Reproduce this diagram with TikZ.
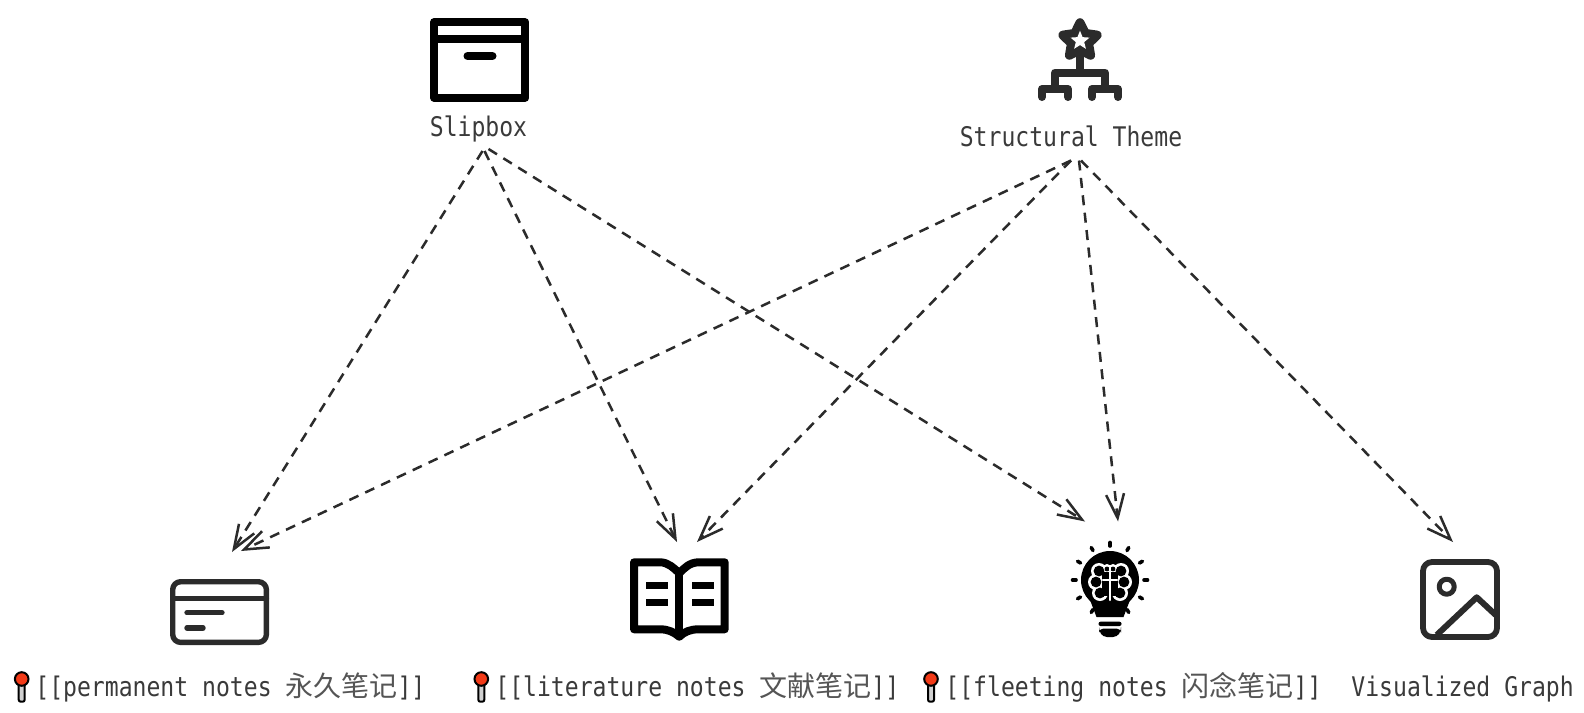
\documentclass[tikz,border=0pt]{standalone}
\usepackage{fontspec}
\setmainfont[FakeStretch=.855]{DejaVu Sans Mono}
\newfontfamily\cjkfont{Noto Sans CJK SC}
\definecolor{dnden}{HTML}{000000}
\definecolor{dnmuc}{HTML}{2B2B2B}
\definecolor{dnchu}{HTML}{3A3A3A}
\definecolor{dncjk}{HTML}{555555}
\definecolor{dndo}{HTML}{F23A17}
\definecolor{dnxam}{HTML}{D0D0D0}
\def\mauden{dnden}
\def\maumuc{dnmuc}
\newcommand{\cjkstr}[1]{{\cjkfont\fontsize{14}{14}\selectfont\color{dncjk}#1}}
\usetikzlibrary{arrows.meta,calc}
\tikzset{
	notepin/.pic={
		\draw[black,line width=1pt,fill=dnxam,rounded corners=1pt] (-3,4) rectangle (3,22.7);
		\draw[black,line width=1pt,fill=dndo] (0,0) circle (6.8);
	}
}
\begin{document}
\begin{tikzpicture}[x=.5pt,y=-.5pt]
		\tikzstyle{labelstyle} = [inner sep=0pt,anchor=base,text=dnchu,font=\fontsize{13.5}{14}\selectfont,text depth=2.3pt,text height=8pt]
		\tikzstyle{linkstyle} = [-{Straight Barb[length=12pt,width=9pt]},line width=1.25pt,dash pattern=on 5pt off 3.75pt,line join=round,\maumuc]
		\tikzstyle{blackicon} = [line width=4pt,line join=round,\mauden]
		\tikzstyle{darkicon} = [line join=round,line cap=round,\maumuc]
		\path[use as bounding box,fill=white] (0,0) rectangle (1584,712);
		\node[labelstyle] (slip) at (478.5,136.5) {Slipbox};
		\node[labelstyle] (theme) at (1071,146) {Structural Theme};
		\node[labelstyle,anchor=base west] (perm) at (35,696) {[[permanent notes \cjkstr{永久笔记}]]};
		\node[labelstyle,anchor=base west] (lit) at (495,696) {[[literature notes \cjkstr{文献笔记}]]};
		\node[labelstyle,anchor=base west] (fleet) at (945,696) {[[fleeting notes \cjkstr{闪念笔记}]]};
		\node[labelstyle,anchor=base west] (graph) at (1351,696) {Visualized Graph};
		\foreach \x in {21.7,481.3,931}
			\pic at (\x,679) {notepin};
		\coordinate (permA) at (232,552);
		\coordinate (permB) at (241,551);
		\coordinate (litA) at (677,542);
		\coordinate (litB) at (697,542);
		\coordinate (fleetA) at (1085,521.5);
		\coordinate (fleetB) at (1118,521.5);
		\coordinate (graphA) at (1453,542);
		\draw[linkstyle] ([shift={(4,9.5)}]slip.south) -- (permA);
		\draw[linkstyle] ([shift={(6,9.5)}]slip.south) -- (litA);
		\draw[linkstyle] ([shift={(10,7.5)}]slip.south) -- (fleetA);
		\draw[linkstyle] ([shift={(0,9.5)}]theme.south) -- (permB);
		\draw[linkstyle] ([shift={(0,9.5)}]theme.south) -- (litB);
		\draw[linkstyle] ([shift={(8,9.5)}]theme.south) -- (fleetB);
		\draw[linkstyle] ([shift={(10,9.5)}]theme.south) -- (graphA);
		\draw[blackicon] (434,22.3) rectangle (525.3,97.7);
		\draw[blackicon] (434,39) -- (525.3,39);
		\draw[blackicon,line cap=round] (467.5,56) -- (492.5,56);
		\begin{scope}[shift={(1080,40.7)}]
			\draw[darkicon,line width=4.5pt,fill=\maumuc] plot[samples at={0,1,...,9},variable=\k] ({-90+36*\k}:{ifthenelse(mod(\k,2)==0,18,9)}) -- cycle;
			\fill[white] plot[samples at={0,1,...,9},variable=\k] ({-90+36*\k}:{ifthenelse(mod(\k,2)==0,10,4.4)}) -- cycle;
		\end{scope}
		\draw[darkicon,line width=4pt] (1080,56) -- (1080,72.5);
		\draw[darkicon,line width=4pt] (1055,87) -- (1055,72.5) -- (1105,72.5) -- (1105,87);
		\draw[darkicon,line width=4pt] (1042,97) -- (1042,89) -- (1068,89) -- (1068,97);
		\draw[darkicon,line width=4pt] (1092,97) -- (1092,89) -- (1118,89) -- (1118,97);
		\draw[darkicon,line width=2.7pt,rounded corners=4pt] (172.7,581.7) rectangle (266.4,642.4);
		\draw[darkicon,line width=2.7pt] (172.7,598.7) -- (266.4,598.7);
		\draw[darkicon,line width=2.7pt] (187,612.7) -- (222,612.7);
		\draw[darkicon,line width=2.7pt] (187,628) -- (203,628);
		\draw[blackicon] (634,562.3) -- (660,562.3) .. controls (668,562.3) and (674,568) .. (679.3,573.3) .. controls (684,568) and (690,562.3) .. (698.7,562.3) -- (724.7,562.3) -- (724.7,629.3) -- (698.7,629.3) .. controls (690,629.3) and (684,632) .. (679.3,636.7) .. controls (674,632) and (668,629.3) .. (660,629.3) -- (634,629.3) -- cycle;
		\draw[blackicon] (679.3,573.3) -- (679.3,636.7);
		\foreach \x in {645.7,691.7}
			\foreach \y in {582.4,599}
				\fill[\mauden] (\x,\y) rectangle ++(22,6.6);
		\begin{scope}[shift={(1110,580)}]
			\foreach \a in {-240,-210,...,60}
				\draw[\mauden,line width=1.8pt,line cap=round] (\a:34) -- (\a:37.5);
			\fill[\mauden] (0,0) circle (29);
			\fill[\mauden] (-20,20) -- (20,20) -- (13.5,37) -- (-13.5,37) -- cycle;
			\foreach \s/\t/\r in {-11/-9/8,-14/2/8,-10/13/8,-3/-11/5,11/-9/8,14/2/8,10/13/8,3/-11/5}
				\fill[white] (\s,\t) circle (\r);
			\foreach \s/\t/\r in {-11/-9/8,-14/2/8,-10/13/8,-3/-11/5,11/-9/8,14/2/8,10/13/8,3/-11/5}
				\fill[\mauden] (\s,\t) circle ({\r-2.6});
			\fill[\mauden] (-8,-8) rectangle (8,16);
			\draw[white,line width=1.2pt,line cap=round] (0,-13) -- (0,20);
			\draw[white,line width=1.2pt,line cap=round] (-7,0) -- (7,0);
			\fill[\mauden,rounded corners=1pt] (-11.5,41.7) rectangle (11.5,46);
			\fill[\mauden,rounded corners=2pt] (-11,48.7) -- (11,48.7) -- (11,51) -- (7,57) -- (-7,57) -- (-11,51) -- cycle;
		\end{scope}
		\draw[darkicon,line width=2.9pt,rounded corners=4.5pt] (1423,562) rectangle (1497,637);
		\draw[darkicon,line width=2.5pt] (1446.7,586.7) circle (7.5);
		\draw[darkicon,line width=3pt,line cap=butt] (1436.7,635) -- (1476.7,597.3) -- (1495.7,615);
\end{tikzpicture}
\end{document}
